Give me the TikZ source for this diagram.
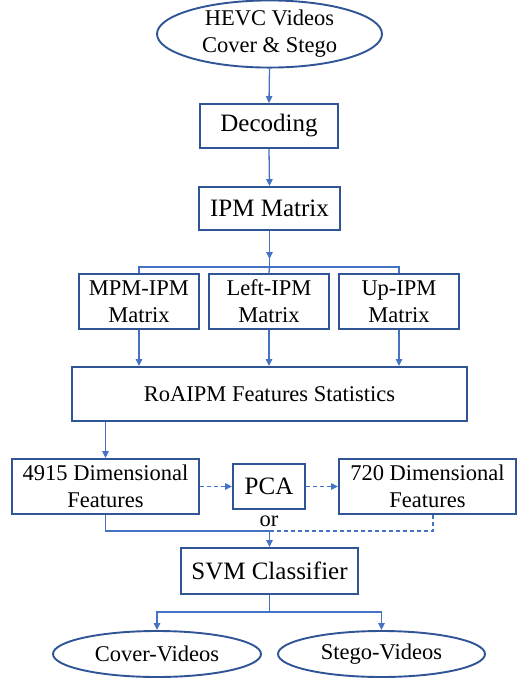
\documentclass[tikz,border=0pt]{standalone}
\usepackage{fontspec}
\setmainfont{Liberation Serif}
\usetikzlibrary{shapes.geometric,arrows.meta}
\definecolor{boxc}{HTML}{2F5597}
\definecolor{linec}{HTML}{4472C4}
\newcommand{\fsz}{\fontsize{22.5}{27}\selectfont}
\newcommand{\fbig}{\fontsize{25}{30}\selectfont}
\tikzset{
  box/.style={draw=boxc, line width=1.9pt, fill=white, inner sep=0pt, align=center, font=\fsz},
  bigbox/.style={box, font=\fbig},
  ell/.style={box, ellipse},
  conn/.style={draw=linec, line width=1.3pt},
  tip/.style={-{Triangle[length=7pt,width=6.5pt]}},
  arr/.style={conn, tip},
  dconn/.style={conn, dash pattern=on 4pt off 3pt},
}
\begin{document}
\begin{tikzpicture}[x=1pt,y=-1pt]
\useasboundingbox (0,0) rectangle (518,678);
\node[ell, minimum width=225, minimum height=64] (top) at (269.5,34) {HEVC Videos\\Cover \& Stego};
\node[bigbox, minimum width=138, minimum height=44] (dec) at (269,126) {Decoding};
\node[bigbox, minimum width=141, minimum height=43] (ipm) at (269.5,208.5) {IPM Matrix};
\node[box, minimum width=120, minimum height=55] (mpm) at (139,301.5) {MPM-IPM\\Matrix};
\node[box, minimum width=120, minimum height=55] (lft) at (269,301.5) {Left-IPM\\Matrix};
\node[box, minimum width=120, minimum height=55] (upm) at (399,301.5) {Up-IPM\\Matrix};
\node[box, minimum width=395, minimum height=54] (roa) at (269.5,394) {RoAIPM Features Statistics};
\node[box, minimum width=187, minimum height=55] (f4915) at (105.5,486.5) {4915 Dimensional\\Features};
\node[bigbox, minimum width=72, minimum height=45] (pca) at (269,486.5) {PCA};
\node[box, minimum width=177, minimum height=55] (f720) at (427.5,486.5) {720 Dimensional\\Features};
\node[bigbox, minimum width=177, minimum height=46] (svm) at (269.5,571) {SVM Classifier};
\node[ell, minimum width=208, minimum height=46] (cov) at (157,654) {Cover-Videos};
\node[ell, minimum width=207, minimum height=46] (steg) at (381.5,654) {Stego-Videos};
\node[font=\fsz, inner sep=0pt] (or) at (269,521) {or};
% top chain
\draw[arr] (top.south) -- (dec.north);
\draw[arr] (dec.south) -- (ipm.north);
% branch to three matrices
\coordinate (bus) at (269.5,267);
\coordinate (busL) at (139,267);
\coordinate (busR) at (399,267);
\draw[arr] (ipm.south) -- (269.5,259);
\draw[conn] (269.5,258) -- (bus);
\draw[conn] (mpm.north) -- (busL) -- (busR) -- (upm.north);
\draw[conn] (bus) -- (lft.north);
% matrices to RoAIPM
\draw[arr] (mpm.south) -- (mpm.south |- roa.north);
\draw[arr] (lft.south) -- (lft.south |- roa.north);
\draw[arr] (upm.south) -- (upm.south |- roa.north);
% RoAIPM to 4915
\draw[arr] (roa.south -| f4915.north) -- (f4915.north);
% PCA dashed arrows
\draw[dconn, tip] (f4915.east) -- (pca.west);
\draw[dconn, tip] (pca.east) -- (f720.west);
% merge into SVM
\coordinate (mid) at (269.5,531);
\draw[conn] (f4915.south) -- (105.5,531) -- (mid);
\draw[dconn] (f720.south -| 433,0) -- (433,531) -- (mid);
\draw[arr] (mid) -- (svm.north);
% SVM to outputs
\coordinate (sb) at (269.5,612);
\draw[conn] (svm.south) -- (sb);
\draw[arr] (sb) -- (157,612) -- (cov.north);
\draw[arr] (sb) -- (381.5,612) -- (steg.north);
\end{tikzpicture}
\end{document}
